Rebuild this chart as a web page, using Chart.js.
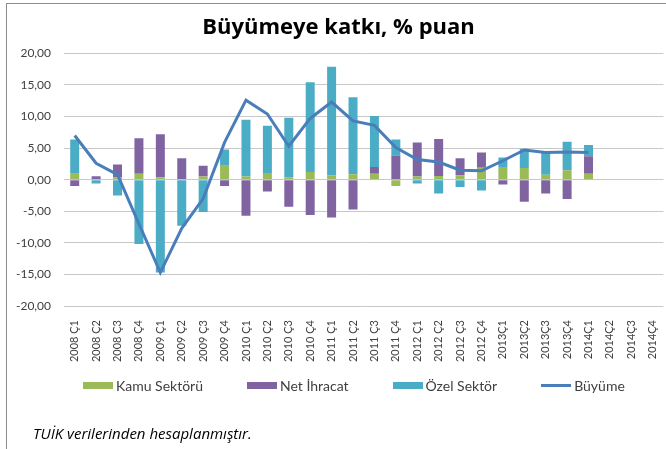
<!DOCTYPE html>
<html>
<head>
<meta charset="utf-8">
<script src="https://cdn.jsdelivr.net/npm/chart.js@4"></script>
<style>
  html, body { margin: 0; padding: 0; background: #fff; overflow: hidden; }
  #wrap { position: relative; width: 672px; height: 449px; }
  #frame { position: absolute; left: 6px; top: 3px; width: 700px; height: 500px;
    border-left: 1px solid #8c8c8c; border-top: 1px solid #8c8c8c; pointer-events: none; }
  #legend { position: absolute; left: 83px; top: 377px; display: flex; gap: 44px;
    font: 14px Lato, sans-serif; color: #404040; }
  #legend .item { display: flex; align-items: center; white-space: nowrap; }
  #legend .swatch { width: 30px; margin-right: 3px; }
  #note { position: absolute; left: 33px; top: 423px; font: italic 15px "Open Sans", sans-serif; color: #000; }
</style>
</head>
<body>
<div id="wrap">
  <canvas id="chart"></canvas>
  <div id="frame"></div>
  <div id="legend"></div>
  <div id="note">TUİK verilerinden hesaplanmıştır.</div>
</div>
<script>
const quarters = [
  '2008 Ç1', '2008 Ç2', '2008 Ç3', '2008 Ç4',
  '2009 Ç1', '2009 Ç2', '2009 Ç3', '2009 Ç4',
  '2010 Ç1', '2010 Ç2', '2010 Ç3', '2010 Ç4',
  '2011 Ç1', '2011 Ç2', '2011 Ç3', '2011 Ç4',
  '2012 Ç1', '2012 Ç2', '2012 Ç3', '2012 Ç4',
  '2013Ç1', '2013Ç2', '2013Ç3', '2013Ç4',
  '2014Ç1', '2014Ç2', '2014Ç3', '2014Ç4'
];

// contributions, % points
const kamuSektoru = [0.95, 0.1, 0.4, 0.95, 0.4, 0.1, 0.5, 2.2, 0.5, 1.05, 0.4, 1.2, 0.7, 0.85, 0.95, -1.0,
  0.5, 0.6, 0.7, 1.9, 2.0, 1.85, 0.8, 1.5, 0.95];
const netIhracat = [-1.0, 0.45, 2.0, 5.6, 6.8, 3.3, 1.7, -1.0, -5.7, -1.85, -4.3, -5.6, -6.0, -4.7, 1.05, 3.85,
  5.4, 5.85, 2.7, 2.4, -0.75, -3.5, -2.2, -3.05, 2.75];
const ozelSektor = [5.4, -0.6, -2.5, -10.2, -14.7, -7.3, -5.1, 2.6, 9.0, 7.5, 9.4, 14.25, 17.2, 12.2, 8.1, 2.5,
  -0.6, -2.2, -1.15, -1.7, 1.5, 3.05, 3.5, 4.5, 1.8];
const buyume = [7.0, 2.6, 0.8, -7.0, -14.7, -7.7, -3.0, 5.9, 12.6, 10.4, 5.3, 9.7, 12.3, 9.3, 8.6, 5.1,
  3.2, 2.8, 1.5, 1.4, 3.0, 4.7, 4.3, 4.4, 4.3];

const yTicks = { min: -20, max: 20, step: 5 };

const datasets = [
  { type: 'bar', label: 'Kamu Sektörü', data: kamuSektoru, backgroundColor: '#9bbb59', order: 1 },
  { type: 'bar', label: 'Net İhracat', data: netIhracat, backgroundColor: '#8064a2', order: 1 },
  { type: 'bar', label: 'Özel Sektör', data: ozelSektor, backgroundColor: '#4bacc6', order: 1 },
  { type: 'line', label: 'Büyüme', data: buyume, borderColor: '#4a7ebb', borderWidth: 3,
    pointRadius: 0, tension: 0, stack: 'growth', order: 0 }
];

// html legend built from the datasets
const legendEl = document.getElementById('legend');
datasets.forEach(ds => {
  const item = document.createElement('div');
  item.className = 'item';
  const sw = document.createElement('span');
  sw.className = 'swatch';
  if (ds.type === 'line') {
    sw.style.height = '3px';
    sw.style.background = ds.borderColor;
  } else {
    sw.style.height = '7px';
    sw.style.background = ds.backgroundColor;
  }
  item.appendChild(sw);
  item.appendChild(document.createTextNode(ds.label));
  legendEl.appendChild(item);
});

const ctx = document.getElementById('chart').getContext('2d');
new Chart(ctx, {
  data: { labels: quarters, datasets: datasets },
  options: {
    responsive: true,
    maintainAspectRatio: false,
    animation: false,
    layout: { padding: { left: 8, right: 3, top: 0, bottom: 83 } },
    datasets: { bar: { barPercentage: 0.42, categoryPercentage: 1 } },
    plugins: {
      legend: { display: false },
      tooltip: { enabled: false },
      title: {
        display: true,
        text: 'Büyümeye katkı, % puan',
        color: '#000',
        font: { family: 'Open Sans', size: 22, weight: 'bold' },
        padding: { top: 15, bottom: 12 }
      }
    },
    scales: {
      x: {
        stacked: true,
        grid: { display: false },
        border: { display: false },
        ticks: {
          autoSkip: false, maxRotation: 90, minRotation: 90, padding: 6,
          color: '#404040', font: { family: 'Lato', size: 11 }
        },
        afterFit: scale => { scale.height = 60; }
      },
      y: {
        stacked: true,
        min: yTicks.min,
        max: yTicks.max,
        grid: { color: '#c8c8c8', drawTicks: false },
        border: { display: false },
        ticks: {
          stepSize: yTicks.step, padding: 13, color: '#404040',
          font: { family: 'Lato', size: 12 },
          callback: v => v.toFixed(2).replace('.', ',')
        },
        afterFit: scale => { scale.width = 56; }
      }
    }
  }
});
</script>
</body>
</html>
